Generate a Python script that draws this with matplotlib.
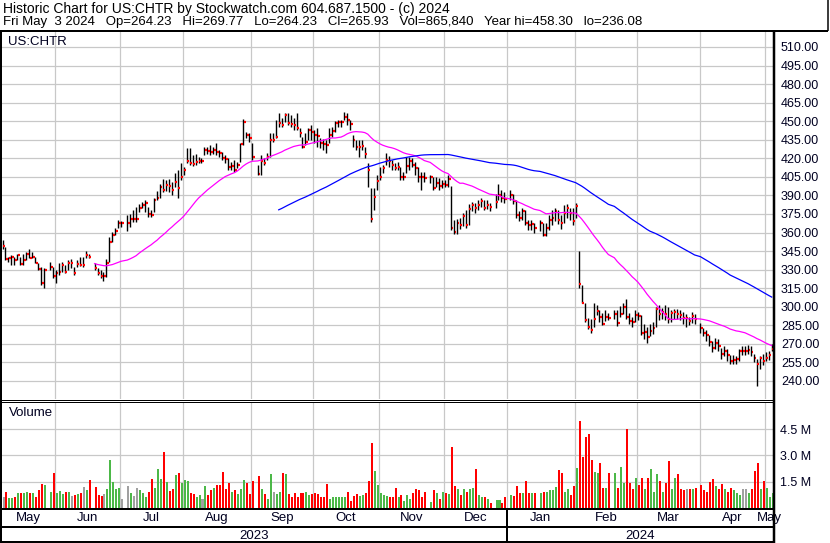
import numpy as np
import pandas as pd
import matplotlib
matplotlib.use("Agg")
import matplotlib.pyplot as plt
from matplotlib.lines import Line2D

W, H = 830, 543
plt.rcParams["font.family"] = ["Liberation Sans", "DejaVu Sans"]

# one slot per weekday, market holidays are None
dates = pd.bdate_range("2023-05-08", "2024-05-03")

high = [
    354, 348, 340.5, 342, 340.5, 343, 340.5, 343, 344.5, 346.4, 344.5, 340.5, 335, 332.4, 331,
    None,
    336.4, 332.4, 329.7, 335, 336.4, 333.7, 337.8, 338.5, 332.4, 337.8, 340.5, 340.5, 345, 343,
    None,
    335, 331, 329.7, 328.3, 338.3, 356, 360.7, 363.4, 370.1, 369.6,
    None,
    374.1, 374.7, 378.2, 380.9, 382.8, 384.9, 386.3, 380.9, 378.2, 387.6, 393.8, 399, 402.9, 402.5,
    403, 401, 408.4, 410.5,
    416, 413.2, 428.1, 428.1, 422.7, 423.5, 421.3, 420, 429.4, 429.4, 430.8, 429.4, 432.1, 426.7,
    425.4, 422.7, 420, 417.3, 418.6, 417.3, 432.1, 451.8, 441.5, 440.2, 432.1,
    None,
    414.6, 422.7, 420, 424, 440.2, 440.2, 451, 456.4, 452.4, 456.4, 456.4, 455, 452.4, 456.4, 444.3,
    437.5, 440.2, 444.3, 446.9,
    442.9, 444.3, 436.2, 435.4, 434.8, 444.3, 445.6, 450.4, 451, 451, 457.7, 456.4, 451, 438.8,
    434.8, 434.8, 434.8, 429.4, 416, 395.7, 395.7, 406.5,
    413.2, 414.6, 424, 421.9, 418.6, 416, 417.3, 413.2, 409.2, 420.8, 420.8, 420, 417.3, 413.2,
    409.2, 409.2,
    None,
    406.5, 405.1, 404.6, 403.8, 402.5,
    402.5, 406.5, 397.6, 370, 371, 372, 376, 378, 383, 385, 384, 386, 388, 386, 386, 384,
    None,
    391, 399, 394, 393,
    None,
    394, 391, 386, 377, 380, 378, 370, 370, 368,
    None,
    370, 368, 368, 374, 378, 380, 378, 374, 382, 383, 380, 380,
    384, 345, 317.6, 303.3, 290.6, 289.8, 302.7, 301.4, 297.3, 294.7, 297, 294.7,
    None,
    297, 297.3, 300.6, 303, 306, 295, 292, 297, 296, 293, 286, 284, 286, 288,
    300, 301, 299, 301, 300, 297, 298, 298, 297, 296, 294, 292, 296, 294,
    None,
    287, 283, 281, 277, 272, 275, 274, 267, 268, 266, 261, 261, 260, 266, 268, 268, 269, 268, 262,
    258, 260, 262, 263, 264, 269.77,
]

low = [
    346.5, 338, 336.5, 334, 333.7, 338, 333.7, 334, 338, 339, 339, 335, 329.7, 317.6, 315,
    None,
    329.7, 322.9, 318.9, 325.6, 328.3, 327, 329.7, 331, 325.6, 332.4, 333, 332.4, 339, 339,
    None,
    329.7, 325.6, 322.9, 321, 324.3, 336.4, 352.6, 358, 363.4, 364.7,
    None,
    361.5, 364.7, 368.8, 368.8, 376.9, 379.6, 376.9, 372.8, 372.3, 376.9, 386.3, 387.6, 393, 393.8,
    393, 390.3, 397, 387.6,
    402.5, 406.5, 416, 414.6, 413.6, 414.6, 416, 416.3, 422.7, 423.5, 422.5, 423.5, 422.7, 421.3,
    418.6, 416, 410.5, 410.5, 409.2, 411.9, 417.3, 430.8, 436.2, 433.5, 418.6,
    None,
    406.5, 406.5, 414.6, 418.6, 421.3, 433.5, 436.2, 445.6, 445.6, 449.6, 446.9, 445.6, 442.9,
    442.9, 437.5, 428.1, 430.8, 434.8, 434.8,
    432.1, 429.4, 428.1, 426.7, 424, 432.1, 437.5, 441.5, 445.1, 445.6, 451, 446.9, 442.9, 429.4,
    426.7, 421.3, 426.7, 420, 397, 368.8, 378.2, 394.4,
    402.5, 407.9, 414.6, 413.2, 410.5, 410.5, 410.5, 402.5, 402.5, 407.9, 410.5, 413.2, 406.5, 401,
    394.4, 401,
    None,
    399.8, 394.4, 396.6, 394.4, 395.7,
    397, 397, 362, 359, 359, 363, 365, 364, 366, 377, 376, 378, 381, 378, 379, 377,
    None,
    380, 386, 385, 384,
    None,
    386, 383, 372, 369, 370, 366, 362, 362, 360,
    None,
    361, 357, 357, 362, 366, 369, 367, 363, 368, 372, 370, 366,
    372, 315, 302.8, 287.9, 281.7, 279, 283.8, 293.3, 287.9, 285.2, 288.5, 289.5,
    None,
    290, 284.4, 291.9, 294, 290, 286, 284, 288, 289, 277, 274, 270.5, 276, 278,
    284, 289, 290, 289, 287, 288, 290, 290, 289, 286, 284, 285, 287, 286,
    None,
    279, 276, 272, 268, 263, 266, 264, 258, 260, 256, 254, 254, 254, 256.5, 261, 261, 262, 260, 255,
    236.08, 250, 253, 256, 257, 264.23,
]

close = [
    349, 338.5, 339, 340.5, 337.8, 342, 334.5, 338, 342.7, 339.6, 340.5, 335.6, 330.7, 318.9, 329.7,
    None,
    332.4, 324.8, 327.5, 328.3, 333.7, 328.3, 335.6, 335.6, 327.5, 334.5, 333.7, 333.7, 342, 340.5,
    None,
    331, 327.5, 324.8, 324.8, 335.6, 352.6, 358, 361.5, 367.4, 367.4,
    None,
    367.4, 371.2, 371.2, 371.2, 379.6, 382.2, 383.6, 374.7, 374.1, 386.3, 387.6, 397, 394.4, 398.4,
    397.6, 394.4, 401, 395.7,
    404.7, 410.5, 418.1, 416.5, 415, 417, 418, 418, 426.7, 425.5, 424.8, 426.5, 425.4, 424,
    420, 419.2, 413.2, 413.8, 410.5, 414.6, 431.3, 449.6, 438.8, 436.8, 421.3,
    None,
    407.3, 418, 416, 421.3, 434.8, 434.8, 437.5, 448.3, 447, 455, 448.8, 447.7, 446.9, 444.3,
    440.2, 429.4, 433.5, 442.9, 441,
    438.8, 438, 432.1, 431.3, 430.8, 438.8, 442.1, 448.3, 449, 449.6, 453.6, 451, 447.7, 434.8,
    428.9, 429.4, 430, 423.2, 410.5, 371, 389, 401.9,
    405.1, 411.9, 418.6, 418.1, 414.6, 411.9, 413.2, 404.7, 405.1, 414, 418.1, 414.6, 411.9, 405.1,
    404.7, 403.8,
    None,
    404.7, 395.7, 400.3, 397.6, 399.2,
    398.4, 403, 363.4, 360.7, 367.9, 366.1, 373.3, 366.1, 378.8, 382.5, 379.6, 382.5, 385.7, 380.1,
    382.2, 380.9,
    None,
    385, 390.3, 387.6, 387.4,
    None,
    390.3, 385.5, 374.4, 371.5, 377.7, 367.9, 366.1, 366.6, 363.9,
    None,
    367.4, 358.2, 363.9, 370.1, 371.5, 377.4, 370.1, 367.9, 376, 379.6, 376, 369.3,
    381.7, 318.4, 303.3, 289.2, 283.3, 281.5, 289.8, 296.8, 291.9, 286, 291.9, 290.5,
    None,
    294.1, 286.6, 294.1, 300, 291.9, 288.7, 287.6, 293.6, 292.7, 279, 279.8, 275.5, 280.6, 282.5,
    297.9, 293.9, 295.5, 293.9, 289.8, 295.2, 296, 294.4, 293.6, 290.6, 290.6, 288.2, 292.7, 290,
    None,
    282.8, 278.5, 277.1, 271.7, 266.3, 270.9, 268, 261.8, 264.5, 261, 256.1, 256.9, 257.5, 264.2,
    264.2, 264.2, 265, 263.6, 258.2, 253.7, 258.2, 256.5, 258.7, 261.2, 265.93,
]

# volume in millions of shares
volume = [
    0.65, 0.94, 0.56, 0.56, 0.65, 0.84, 0.84, 0.84, 0.9, 0.84, 0.84, 0.6, 1.05, 1.35, 1.3,
    None,
    0.9, 2.0, 0.84, 0.95, 0.8, 0.9, 0.9, 0.7, 0.75, 0.8, 0.85, 1.2, 1.0, 1.6,
    None,
    1.2, 0.75, 0.7, 0.8, 1.1, 2.75, 1.5, 1.1, 1.15, 0.5,
    None,
    1.25, 0.85, 0.7, 1.15, 1.0, 0.85, 0.65, 0.9, 1.65, 1.15, 2.25, 1.65, 3.2, 1.5, 0.95, 1.1, 1.9,
    2.0,
    1.4, 1.58, 1.52, 0.88, 0.82, 0.61, 0.77, 0.54, 1.23, 0.77, 1.0, 1.17, 1.29, 1.29, 2.04, 1.06,
    1.4, 0.94, 1.0, 0.82, 1.11, 1.58, 1.4, 0.82, 1.52,
    None,
    1.8, 1.06, 0.82, 0.54, 1.92, 0.94, 0.82, 0.94, 1.98, 1.92, 0.82, 0.65, 0.88, 0.65, 0.88, 0.88,
    0.94, 0.77, 0.82,
    0.88, 0.82, 0.65, 0.6, 1.35, 0.54, 0.6, 0.6, 0.6, 0.65, 0.6, 0.94, 0.42, 0.71, 0.82, 0.71,
    0.77, 0.88, 1.52, 3.71, 2.09, 1.33, 0.88, 0.77, 0.71, 0.65, 0.65, 1.17, 0.6, 0.77, 0.42, 0.77,
    0.54, 0.88, 1.11, 1.0, 0.65, 0.9,
    None,
    0.35, 1.04, 0.84, 0.5, 0.94, 0.84, 0.8, 3.5, 1.27, 1.08, 0.75, 1.1, 0.94, 1.08, 1.13, 2.23,
    0.77, 0.65, 0.6, 0.52, 0.3,
    None,
    0.46, 0.46, 0.3, 0.65,
    None,
    0.75, 0.7, 1.23, 0.88, 0.88, 1.52, 0.84, 0.84, 0.84,
    None,
    0.84, 0.9, 0.94, 1.0, 1.0, 1.2, 2.15, 1.98, 0.94, 1.06, 0.77, 1.23, 2.27,
    4.98, 2.9, 4.06, 4.23, 2.73, 2.04, 1.98, 2.56, 1.17, 1.17, 1.98,
    None,
    1.98, 1.17, 2.32, 1.4, 4.52, 1.4, 1.06, 1.69, 1.29, 1.69, 1.11, 1.69, 2.21, 0.94, 1.92, 1.52,
    0.94, 1.4, 2.67, 1.06, 1.69, 1.92, 1.11, 1.0, 1.11, 1.06, 1.11, 1.17,
    None,
    1.29, 1.0, 0.94, 1.46, 1.63, 1.23, 1.11, 1.35, 1.06, 0.94, 1.17, 1.0, 0.88, 0.77, 1.06, 1.06,
    0.88, 1.06, 2.09, 2.56, 1.11, 1.52, 1.17, 0.65, 0.87,
]

price_ticks = list(range(240, 511, 15))
vol_ticks = [1.5, 3.0, 4.5]
title_line = "Historic Chart for US:CHTR by Stockwatch.com 604.687.1500 - (c) 2024"
info_line = ("Fri May  3 2024   Op=264.23   Hi=269.77   Lo=264.23   Cl=265.93   "
             "Vol=865,840   Year hi=458.30   lo=236.08")

df = pd.DataFrame({"high": high, "low": low, "close": close, "volume": volume},
                  index=dates, dtype=float)
df["x"] = np.arange(len(df))
trades = df.dropna()

ma30 = trades["close"].rolling(30).mean()
ma90 = trades["close"].rolling(90).mean()

chg = trades["close"].diff()
vcol = np.where(chg > 0, "#4cb848", np.where(chg < 0, "#ff0000", "#a0a0a0"))

# month starts (first weekday of each month)
month_start = [i for i in range(len(dates)) if i == 0 or dates[i].month != dates[i - 1].month]
grid_x = [i - 0.3 for i in month_start[1:]]


def fx(px):
    return px / W


def fy(py):
    return 1 - py / H


X0, X1 = 2, 774
xlim = ((X0 - 2.5) / 2.97, (X1 - 2.5) / 2.97)
GRID = "#c8c8c8"
TXT = "#000020"

fig = plt.figure(figsize=(W / 100, H / 100), dpi=100)

# price panel
ax = fig.add_axes([fx(X0), fy(399), fx(X1) - fx(X0), fy(31) - fy(399)])
ax.vlines(trades["x"], trades["low"], trades["high"], color="black", lw=1.0)
ax.hlines(trades["close"], trades["x"] + 0.2, trades["x"] + 0.85, color="#ff0000", lw=1.6)
ax.plot(trades["x"], ma30, color="#ff00ff", lw=0.9)
ax.plot(trades["x"], ma90, color="#0000ff", lw=0.9)
ax.set_xlim(xlim)
ax.set_ylim(225.4, 522.9)
ax.set_yticks(price_ticks)
ax.set_yticklabels([f"{v:.2f}" for v in price_ticks])
ax.yaxis.tick_right()
ax.tick_params(axis="y", length=0, pad=5, labelsize=9, labelcolor=TXT)
ax.set_xticks([])
ax.grid(axis="y", color=GRID, lw=0.9)
for gx in grid_x:
    ax.axvline(gx, color=GRID, lw=0.9, zorder=0)
ax.set_axisbelow(True)
for s in ax.spines.values():
    s.set_visible(False)

# volume panel
axv = fig.add_axes([fx(X0), fy(508), fx(X1) - fx(X0), fy(402) - fy(508)])
axv.bar(trades["x"], trades["volume"], width=0.68, color=vcol, align="edge")
axv.set_xlim(xlim)
axv.set_ylim(0, 6.05)
axv.set_yticks(vol_ticks)
axv.set_yticklabels([f"{v:.1f} M" for v in vol_ticks])
axv.yaxis.tick_right()
axv.tick_params(axis="y", length=0, pad=4, labelsize=9, labelcolor=TXT)
axv.set_xticks([])
axv.grid(axis="y", color=GRID, lw=0.9)
for gx in grid_x:
    axv.axvline(gx, color=GRID, lw=0.9, zorder=0)
axv.set_axisbelow(True)
for s in axv.spines.values():
    s.set_visible(False)

# date rows
axd = fig.add_axes([fx(X0), fy(543), fx(X1) - fx(X0), fy(509) - fy(543)])
axd.set_xlim(xlim)
axd.set_ylim(0, 1)
axd.axis("off")
edges = [xlim[0]] + grid_x + [xlim[1]]
for k in range(len(edges) - 1):
    d = dates[month_start[k]]
    axd.text((edges[k] + edges[k + 1]) / 2, 0.73, d.strftime("%b"), ha="center", va="center",
             fontsize=9.5, color=TXT)
jan = grid_x[[dates[i].month for i in month_start[1:]].index(1)]
axd.text((xlim[0] + jan) / 2, 0.22, "2023", ha="center", va="center", fontsize=9.5, color=TXT)
axd.text((jan + xlim[1]) / 2, 0.22, "2024", ha="center", va="center", fontsize=9.5, color=TXT)

# header and labels
fig.text(fx(3), fy(8.5), title_line, va="center", fontsize=10, color="black")
fig.text(fx(3), fy(22.5), info_line, va="center", fontsize=9.5, color="black")
fig.text(fx(8), fy(42), "US:CHTR", va="center", fontsize=9.5, color=TXT)
fig.text(fx(9), fy(413), "Volume", va="center", fontsize=9.5, color=TXT)


def seg(x0, y0, x1, y1, w):
    fig.add_artist(Line2D([fx(x0), fx(x1)], [fy(y0), fy(y1)], color="black", lw=w * 0.72,
                          solid_capstyle="butt"))


jan_px = 2.5 + 2.97 * jan
seg(0, 30.5, 828, 30.5, 2)
seg(827.5, 0, 827.5, 31, 1.5)
seg(1, 30, 1, 543, 2)
seg(774, 30, 774, 543, 2.5)
seg(0, 399.5, 774, 399.5, 1)
seg(0, 401.5, 774, 401.5, 1)
seg(0, 509, 774, 509, 2)
seg(0, 527, 774, 527, 2)
seg(0, 542, 774, 542, 2)
seg(jan_px, 509, jan_px, 543, 2)

fig.savefig("out.png", dpi=100)
